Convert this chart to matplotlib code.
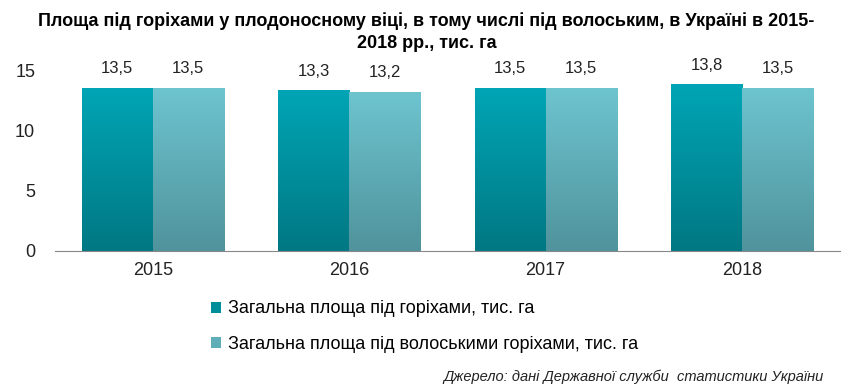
import numpy as np
import matplotlib.pyplot as plt
from matplotlib.colors import LinearSegmentedColormap
from matplotlib.patches import Patch

plt.rcParams['font.family'] = ['Liberation Sans', 'DejaVu Sans']

years = ['2015', '2016', '2017', '2018']
total_area = [13.5, 13.3, 13.5, 13.8]
walnut_area = [13.5, 13.2, 13.5, 13.5]
labels = ['Загальна площа під горіхами, тис. га',
          'Загальна площа під волоськими горіхами, тис. га']
title = 'Площа під горіхами у плодоносному віці, в тому числі під волоським, в Україні в 2015-\n2018 рр., тис. га'
source = 'Джерело: дані Державної служби  статистики України'

grad1 = ('#007883', '#00a5b5')
grad2 = ('#50939c', '#6dc4cf')

fig = plt.figure(figsize=(8.53, 3.86), dpi=100)
ax = fig.add_axes([0.064, 0.35, 0.921, 0.468])

x = np.arange(len(years))
w = 0.362
b1 = ax.bar(x - w / 2, total_area, w, color='none')
b2 = ax.bar(x + w / 2, walnut_area, w, color='none')

grad = np.linspace(0, 1, 256).reshape(-1, 1)
for bars, (c0, c1), vals in ((b1, grad1, total_area), (b2, grad2, walnut_area)):
    cmap = LinearSegmentedColormap.from_list('g', [c0, c1])
    for bar, v in zip(bars, vals):
        x0 = bar.get_x()
        ax.imshow(grad, cmap=cmap, aspect='auto', origin='lower',
                  extent=(x0, x0 + bar.get_width(), 0, bar.get_height()), zorder=2)
        ax.text(x0 + bar.get_width() / 2, v + 1.0, f'{v:.1f}'.replace('.', ','),
                ha='center', va='bottom', fontsize=12, color='#222222')

ax.set_xlim(-0.5, len(years) - 0.5)
ax.set_ylim(0, 15)
ax.set_yticks([0, 5, 10, 15])
ax.set_xticks(x)
ax.set_xticklabels(years)
ax.tick_params(axis='both', length=0, labelsize=13, colors='#222222')
ax.tick_params(axis='y', pad=14)
ax.tick_params(axis='x', pad=8)
for s in ('top', 'right', 'left'):
    ax.spines[s].set_visible(False)
ax.spines['bottom'].set_color('#888888')

fig.text(0.5, 0.968, title, ha='center', va='top', fontsize=13,
         fontweight='bold', family=['Liberation Sans Narrow', 'Liberation Sans', 'DejaVu Sans'],
         linespacing=1.4)

handles = [Patch(facecolor='#008e9b'), Patch(facecolor='#5fadb7')]
fig.legend(handles, labels, loc='upper left', bbox_to_anchor=(0.237, 0.245),
           frameon=False, fontsize=13, handlelength=0.55, handleheight=0.55,
           handletextpad=0.4, labelspacing=1.0, borderpad=0)

fig.text(0.965, 0.005, source, ha='right', va='bottom', fontsize=10.5,
         style='italic', color='#222222')

fig.savefig('out.png', dpi=100)
